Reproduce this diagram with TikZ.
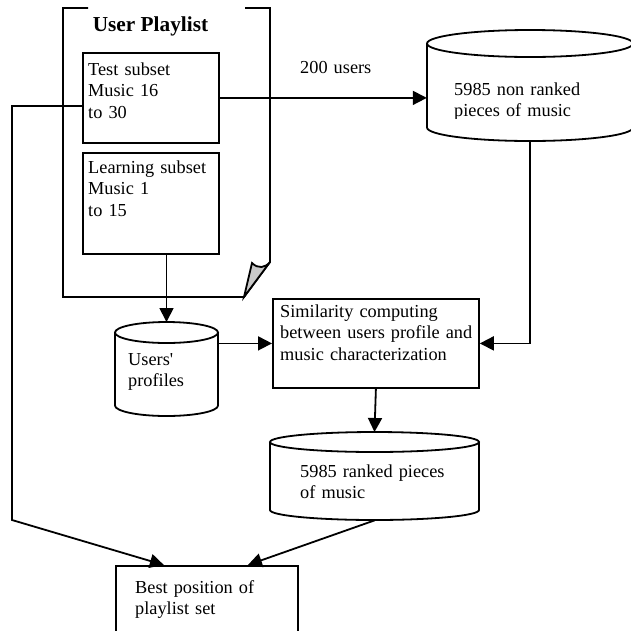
\documentclass[tikz,border=0pt]{standalone}
\usepackage{fontspec}
\setmainfont{Liberation Serif}
\usetikzlibrary{arrows.meta, calc}
\definecolor{Fold}{HTML}{C8C8C8}
\NewDocumentCommand{\DrawDatabase}{m m m m m m}{
    
    \begin{scope}[shift={(#2,-#3)}]
        \draw[db] (-#4/2,-#6) -- (-#4/2,-#5+#6) arc[start angle=180, end angle=360, x radius=#4/2, y radius=#6] -- (#4/2,-#6);
        \draw[db] (0,-#6) ellipse[x radius=#4/2, y radius=#6];
        \node[inner sep=0, minimum width=#4, minimum height=#5, anchor=north] (#1) at (0,0) {};
    \end{scope}
}

\begin{document}
\begin{tikzpicture}[x=1pt, y=1pt,
    procbox/.style={draw, line width=1.8pt, inner sep=0, anchor=north west},
    txt/.style={font=\fontsize{18.3}{21.7}\selectfont, text width=#1, align=left, inner sep=0, anchor=base west},
    txt/.default=200pt,
    db/.style={line width=1.8pt, fill=white},
    flow/.style={line width=1.8pt, -{Triangle[length=14pt, width=14pt]}}]

    \useasboundingbox (0,0) rectangle (631,-630);

    % user playlist sheet
    \draw[line width=1.8pt] (88,-8) -- (63,-8) -- (63,-297) -- (244,-297) -- (270,-262) -- (270,-8) -- (245,-8);
    \draw[line width=1.8pt, fill=Fold] (270,-262) .. controls (265,-268) and (258,-269) .. (252,-263) -- (244,-297) -- cycle;
    \node[font=\fontsize{21.3}{25}\bfseries\selectfont, anchor=base, inner sep=0] (playlist) at (150.5,-31) {User Playlist};

    \node[procbox, minimum width=136, minimum height=90] (test) at (82,-52) {};
    \node[procbox, minimum width=136, minimum height=101] (learn) at (82,-152) {};
    \node[procbox, minimum width=206, minimum height=89] (sim) at (272,-298) {};
    \node[procbox, minimum width=182, minimum height=80] (best) at (115,-565) {};

    \DrawDatabase{unranked}{530}{30}{206}{111}{13.5}
    \DrawDatabase{users}{166.5}{322}{103}{94}{10.5}
    \DrawDatabase{ranked}{374.5}{432}{209}{88}{10}

    \node[txt] (testtext) at (88,-75) {Test subset\\Music 16\\to 30};
    \node[txt] (learntext) at (88,-173) {Learning subset\\Music 1\\to 15};
    \node[txt=215pt] (simtext) at (280,-317) {Similarity computing\\between users profile and\\music characterization};
    \node[txt] (besttext) at (135,-593) {Best position of\\playlist set};
    \node[txt] (userstext) at (128,-365) {Users\textquotesingle\\profiles};
    \node[txt] (rankedtext) at (300,-477) {5985 ranked pieces\\of music};
    \node[txt] (userscount) at (300,-73) {200 users};
    \begin{scope}
        \clip (427,-30) rectangle (631,-118);
        \node[txt] (unrankedtext) at (454,-95) {5985 non ranked\\pieces of music};
    \end{scope}

    \coordinate (loopcorner) at (12,-520);
    \draw[flow] ([yshift=-8pt]test.west) -| (loopcorner) -- ([xshift=-43pt]best.north);
    \draw[flow] (test.east) -- (test.east -| unranked.west);
    \draw[flow] (users.north |- learn.south) -- (users.north);
    \draw[flow] (sim.west -| users.east) -- (sim.west);
    \draw[flow] (unranked.south) |- (sim.east);
    \draw[flow] (sim.south) -- (ranked.north);
    \draw[flow] (ranked.south) -- ([xshift=41pt]best.north);
\end{tikzpicture}
\end{document}
